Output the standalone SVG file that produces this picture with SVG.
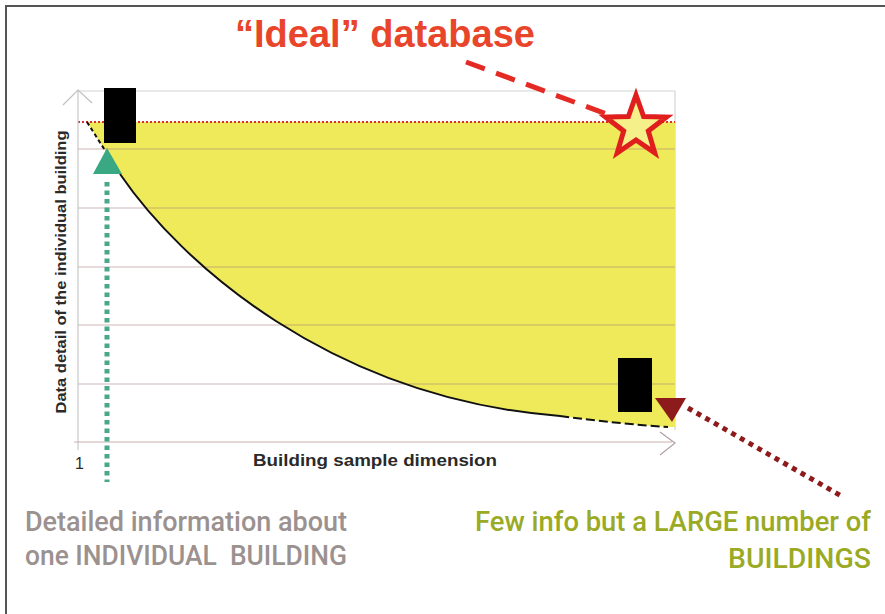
<svg xmlns="http://www.w3.org/2000/svg" width="885" height="614" viewBox="0 0 885 614">
<style>
.grid{stroke:#a87878;stroke-opacity:0.55;stroke-width:1.2}
.frame{stroke:#d4d4d4;stroke-width:1.2;fill:none}
.t{font-family:"Liberation Sans",Arial,sans-serif}
.n{font-family:Roboto,"Liberation Sans",sans-serif;font-weight:500}
</style>
<rect width="885" height="614" fill="#ffffff"/>
<path d="M6,614 V6 H885" fill="none" stroke="#555" stroke-width="2"/>
<g id="chart">
<line class="frame" x1="78" y1="91" x2="675" y2="91"/>
<line class="frame" x1="675" y1="91" x2="675" y2="430"/>
<path d="M87,122 L120,174 C180,262 330,398 560,416 Q620,424 668,427 L675,427 L675,122 Z" fill="#eeea5a"/>
<g class="grid">
<line x1="78" y1="149" x2="675" y2="149"/>
<line x1="78" y1="208" x2="675" y2="208"/>
<line x1="78" y1="267" x2="675" y2="267"/>
<line x1="78" y1="325" x2="675" y2="325"/>
<line x1="78" y1="384" x2="675" y2="384"/>
</g>
<line x1="78" y1="122" x2="675" y2="122" stroke="#d83030" stroke-width="1.8" stroke-dasharray="2 2"/>
<line x1="78" y1="91" x2="78" y2="450" stroke="#c8c8c8" stroke-width="1.2"/>
<path d="M63,105 L78,90 L92,103" fill="none" stroke="#c0c0c0" stroke-width="1.2"/>
<line x1="74" y1="442" x2="672" y2="442" stroke="#c8b0b0" stroke-width="1.2"/>
<path d="M660,432 L675,443 L660,455" fill="none" stroke="#b0a0a0" stroke-width="1.2"/>
<path d="M87,122 L120,174" fill="none" stroke="#111" stroke-width="2" stroke-dasharray="4 3"/>
<path d="M120,174 C180,262 330,398 560,416" fill="none" stroke="#111" stroke-width="2"/>
<path d="M560,416 Q620,424 668,427" fill="none" stroke="#111" stroke-width="2" stroke-dasharray="9 4"/>
<text class="t" x="0" y="0" transform="translate(66,272) rotate(-90)" text-anchor="middle" font-size="15" font-weight="bold" fill="#2a2a2a" textLength="283" lengthAdjust="spacingAndGlyphs">Data detail of the individual building</text>
<text class="t" x="75" y="469" font-size="16" fill="#2a2a2a">1</text>
<text class="t" x="253" y="466" font-size="16" font-weight="bold" fill="#2a2a2a" textLength="244" lengthAdjust="spacingAndGlyphs">Building sample dimension</text>
</g>
<g id="marker-top">
<rect x="104" y="88" width="32" height="55" fill="#000"/>
</g>
<g id="marker-bottom">
<rect x="618" y="358" width="34" height="54" fill="#000"/>
</g>
<g id="star">
<polygon points="636,95 643.6,116.6 666.4,117.1 648.3,130.9 654.8,152.9 636,140 617.2,152.9 623.7,130.9 605.6,117.1 628.4,116.6" fill="#f6f08a" stroke="#e01e1e" stroke-width="5" stroke-linejoin="miter"/>
</g>
<g id="connectors">
<line x1="466" y1="62" x2="612" y2="116" stroke="#e42a24" stroke-width="5" stroke-dasharray="20 12"/>
<polygon points="93,174 107,148 122,174" fill="#3aa882"/>
<line x1="107" y1="182" x2="107" y2="482" stroke="#4aa88a" stroke-width="5" stroke-dasharray="4.5 4"/>
<polygon points="655,398 686,398 672,422" fill="#8e1b1b"/>
<line x1="688" y1="408" x2="843" y2="497" stroke="#8e1b1b" stroke-width="5" stroke-dasharray="5 5"/>
</g>
<g id="labels">
<text class="t" x="235" y="47" font-size="38" font-weight="bold" fill="#e8452a" textLength="300" lengthAdjust="spacingAndGlyphs">“Ideal” database</text>
<text class="n" x="25" y="531" font-size="28" fill="#9b918f" textLength="322" lengthAdjust="spacingAndGlyphs">Detailed information about</text>
<text class="n" x="25" y="565" font-size="28" fill="#9b918f" textLength="322" lengthAdjust="spacingAndGlyphs" xml:space="preserve">one INDIVIDUAL  BUILDING</text>
<text class="n" x="475" y="531" font-size="27" fill="#9aaa24" textLength="396" lengthAdjust="spacingAndGlyphs">Few info but a LARGE number of</text>
<text class="n" x="728" y="568" font-size="27" fill="#9aaa24" textLength="143" lengthAdjust="spacingAndGlyphs">BUILDINGS</text>
</g>
</svg>
